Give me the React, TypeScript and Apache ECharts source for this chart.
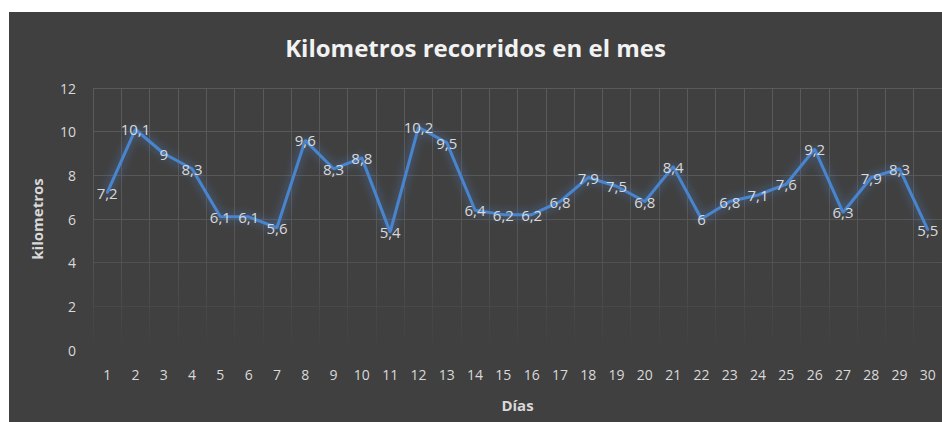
import React, { useEffect, useRef } from "react";
import * as echarts from "echarts";

const days = ["1","2","3","4","5","6","7","8","9","10","11","12","13","14","15","16","17","18","19","20","21","22","23","24","25","26","27","28","29","30"];
const kilometros = [7.2, 10.1, 9, 8.3, 6.1, 6.1, 5.6, 9.6, 8.3, 8.8, 5.4, 10.2, 9.5, 6.4, 6.2, 6.2, 6.8, 7.9, 7.5, 6.8, 8.4, 6, 6.8, 7.1, 7.6, 9.2, 6.3, 7.9, 8.3, 5.5];
const yTicks = { min: 0, max: 12, interval: 2 };
const titleText = "Kilometros recorridos en el mes";
const xName = "Días";
const yName = "kilometros";

export default function App() {
  const ref = useRef<HTMLDivElement>(null);
  useEffect(() => {
    if (!ref.current) return;
    const chart = echarts.init(ref.current, null, { renderer: "svg" });
    const gridTop = 76;
    const gridH = 262;
    const gridGrad = new echarts.graphic.LinearGradient(
      0, gridTop, 0, gridTop + gridH,
      [
        { offset: 0, color: "#5a5a5a" },
        { offset: 0.6, color: "#555555" },
        { offset: 1, color: "#404040" },
      ],
      true
    );
    const font = "'Open Sans', 'Noto Sans', sans-serif";
    chart.setOption({
      animation: false,
      backgroundColor: "#404040",
      title: {
        text: titleText,
        left: "center",
        top: 18,
        textStyle: { color: "#f2f2f2", fontSize: 24, fontWeight: "bold", fontFamily: font },
      },
      grid: { left: 84, top: gridTop, width: 852, height: gridH },
      xAxis: {
        type: "category",
        data: days,
        boundaryGap: true,
        name: xName,
        nameLocation: "middle",
        nameGap: 47,
        nameTextStyle: { color: "#d9d9d9", fontSize: 15, fontWeight: "bold", fontFamily: font },
        axisLine: { show: false },
        axisTick: { show: false },
        axisLabel: { color: "#d9d9d9", fontSize: 14, margin: 17, fontFamily: font, interval: 0 },
        splitLine: { show: true, interval: 0, lineStyle: { color: gridGrad, width: 1 } },
      },
      yAxis: {
        type: "value",
        min: yTicks.min,
        max: yTicks.max,
        interval: yTicks.interval,
        name: yName,
        nameLocation: "middle",
        nameGap: 49,
        nameRotate: 90,
        nameTextStyle: { color: "#d9d9d9", fontSize: 15, fontWeight: "bold", fontFamily: font },
        axisLine: { show: false },
        axisTick: { show: false },
        axisLabel: { color: "#d9d9d9", fontSize: 14, margin: 17, fontFamily: font },
        splitLine: { show: true, lineStyle: { color: gridGrad, width: 1 } },
      },
      series: [
        {
          type: "line",
          data: kilometros,
          symbol: "circle",
          symbolSize: 2,
          itemStyle: { color: "#4a84cf" },
          lineStyle: {
            color: "#4a84cf",
            width: 3,
            shadowColor: "rgba(80,140,220,0.7)",
            shadowBlur: 10,
          },
          label: {
            show: true,
            position: "inside",
            color: "#d9d9d9",
            fontSize: 15,
            fontFamily: font,
            formatter: (p: any) => String(p.value).replace(".", ","),
          },
        },
      ],
    });
    return () => chart.dispose();
  }, []);
  return (
    <div
      ref={ref}
      style={{ position: "absolute", left: 9, top: 12, width: 933, height: 410 }}
    />
  );
}
